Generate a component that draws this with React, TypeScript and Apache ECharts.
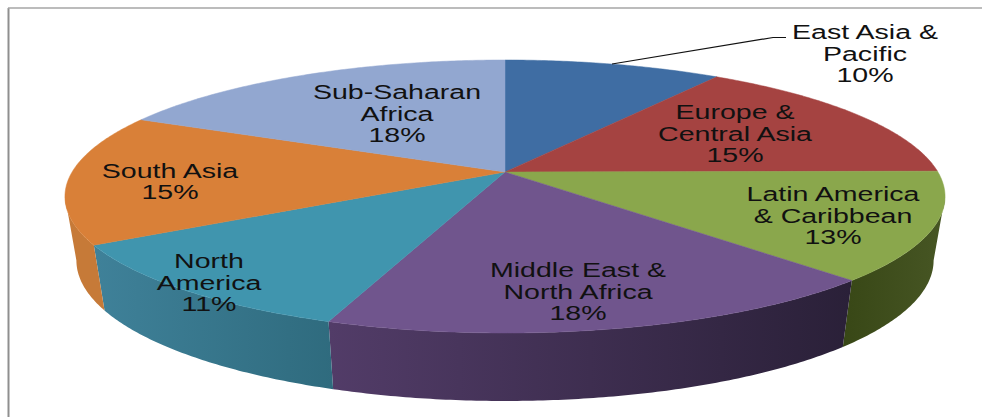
import React, { useEffect, useRef } from "react";
import * as echarts from "echarts";

const regions = [
  ["East Asia &", "Pacific"],
  ["Europe &", "Central Asia"],
  ["Latin America", "& Caribbean"],
  ["Middle East &", "North Africa"],
  ["North", "America"],
  ["South Asia"],
  ["Sub-Saharan", "Africa"],
];
// shares as read from the slice boundaries; labels show them rounded
const shares = [9.5, 15.4, 12.8, 17.8, 11.1, 15.4, 18.0];

const topColors = ["#3F6DA3", "#A54341", "#8AA74C", "#70558D", "#4095AE", "#D98038", "#92A7D0"];
const wallColors: string[][] = [
  ["#3F6DA3", "#3F6DA3"],
  ["#A54341", "#A54341"],
  ["#384716", "#475624"],
  ["#523C68", "#2A2038"],
  ["#3F8199", "#2F6B7E"],
  ["#C67A38", "#C67A38"],
  ["#92A7D0", "#92A7D0"],
];
const labelAnchors = [
  [865, 53],
  [735, 133],
  [833, 215],
  [578, 291],
  [209, 282],
  [170, 181],
  [397, 113],
];

// perspective projection of the pie's top and bottom discs
const CX = 505;
const CY = 172;
const BX = 432.9;
const BY = 132.1;
const K = 0.1795;

function topPoint(a: number): number[] {
  const u = Math.sin(a);
  const v = -Math.cos(a);
  const s = 1 / (1 - K * v);
  return [CX + BX * u * s, CY + BY * v * s];
}
function bottomPoint(a: number): number[] {
  const p = topPoint(a);
  return [CX + (p[0] - CX) * 0.974, p[1] * 1.03 + 58];
}
function arc(from: number, to: number, fn: (a: number) => number[]): number[][] {
  const n = Math.max(2, Math.ceil(Math.abs(to - from) / 0.01));
  const pts: number[][] = [];
  for (let i = 0; i <= n; i++) pts.push(fn(from + ((to - from) * i) / n));
  return pts;
}

const ends: number[] = [];
shares.reduce((sum, s, i) => ((ends[i] = sum + s), ends[i]), 0);
const sliceRows = shares.map((s, i) => [ends[i] - s, ends[i], i]);
const toAngle = (pct: number) => (pct / 100) * Math.PI * 2;
// the walls run between the two points where the top disc is widest on screen
const WALL_FROM = Math.PI - Math.acos(K);
const WALL_TO = Math.PI + Math.acos(K);

export default function App() {
  const ref = useRef<HTMLDivElement>(null);
  useEffect(() => {
    document.body.style.margin = "0";
    const chart = echarts.init(ref.current!, null, { renderer: "svg" });
    chart.setOption({
      animation: false,
      backgroundColor: "#ffffff",
      graphic: [
        { type: "line", shape: { x1: 8.5, y1: 8, x2: 8.5, y2: 417 }, style: { stroke: "#8f8f8f", lineWidth: 2 }, z: 1 },
        { type: "line", shape: { x1: 8, y1: 8, x2: 982, y2: 8 }, style: { stroke: "#a6a6a6", lineWidth: 1.5 }, z: 1 },
        {
          type: "polyline",
          shape: { points: [[612, 64], [773, 37.5], [786, 37.5]] },
          style: { stroke: "#111111", lineWidth: 1.2, fill: "none" },
          z: 5,
        },
      ],
      series: [
        {
          type: "custom",
          coordinateSystem: "none",
          silent: true,
          z: 2,
          data: sliceRows,
          renderItem: (_p: any, api: any) => {
            const from = Math.max(toAngle(api.value(0)), WALL_FROM);
            const to = Math.min(toAngle(api.value(1)), WALL_TO);
            if (to <= from) return { type: "group", children: [] };
            const i = api.value(2);
            const pts = [...arc(from, to, topPoint), ...arc(to, from, bottomPoint)];
            return {
              type: "polygon",
              shape: { points: pts },
              style: {
                fill: new echarts.graphic.LinearGradient(0, 0, 1, 0, [
                  { offset: 0, color: wallColors[i][0] },
                  { offset: 1, color: wallColors[i][1] },
                ]),
              },
            };
          },
        },
        {
          type: "custom",
          coordinateSystem: "none",
          silent: true,
          z: 3,
          data: sliceRows,
          renderItem: (_p: any, api: any) => {
            const i = api.value(2);
            const pts = [[CX, CY], ...arc(toAngle(api.value(0)), toAngle(api.value(1)), topPoint)];
            return {
              type: "polygon",
              shape: { points: pts },
              style: { fill: topColors[i], stroke: topColors[i], lineWidth: 0.5 },
            };
          },
        },
        {
          type: "custom",
          coordinateSystem: "none",
          silent: true,
          z: 4,
          data: sliceRows,
          renderItem: (_p: any, api: any) => {
            const i = api.value(2);
            const s = api.value(1) - api.value(0);
            return {
              type: "text",
              x: labelAnchors[i][0],
              y: labelAnchors[i][1],
              scaleX: 1.36,
              style: {
                text: [...regions[i], `${Math.round(s)}%`].join("\n"),
                fontFamily: "Liberation Sans, Arial, sans-serif",
                fontSize: 21,
                lineHeight: 21.5,
                fill: "#111111",
                align: "center",
                verticalAlign: "middle",
              },
            };
          },
        },
      ],
    });
    return () => chart.dispose();
  }, []);
  return <div ref={ref} style={{ position: "absolute", left: 0, top: 0, width: 982, height: 417 }} />;
}
